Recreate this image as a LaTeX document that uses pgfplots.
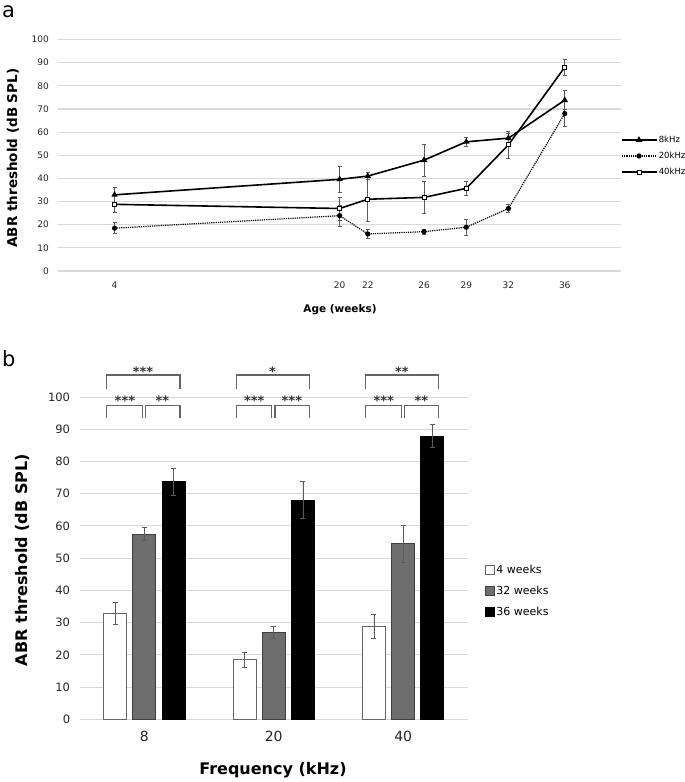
\documentclass[border=0pt]{standalone}
\usepackage{fontspec}
\setmainfont{DejaVu Sans}
\usepackage{pgfplots}
\pgfplotsset{compat=1.18}
\definecolor{gridc}{RGB}{217,217,217}
\definecolor{errc}{RGB}{90,90,90}
\definecolor{barg}{RGB}{110,110,110}
\definecolor{edgec}{RGB}{64,64,64}
\definecolor{brkc}{RGB}{100,100,100}
\tikzset{brk/.style={draw=brkc,line width=1.2pt},
  star/.style={font=\bfseries\fontsize{13}{14}\selectfont,text=black!80,inner sep=0pt}}

\begin{document}
\begin{tikzpicture}
\path[use as bounding box] (0pt,0pt) rectangle (685pt,-782pt);
\node[anchor=base west,inner sep=0pt,font=\fontsize{21}{22}\selectfont] at (2pt,-17pt) {a};
\node[anchor=base west,inner sep=0pt,font=\fontsize{21}{22}\selectfont] at (2pt,-366pt) {b};

% panel a: threshold vs age
\begin{axis}[at={(58.3pt,-271pt)}, anchor=south west,
  scale only axis, width=562.7pt, height=231.5pt,
  xmin=0, xmax=40, ymin=0, ymax=100,
  xtick={4,20,22,26,29,32,36}, ytick={0,10,...,100},
  axis line style={draw=none}, major tick length=0pt,
  ymajorgrids, grid style={gridc,line width=1.2pt},
  /pgf/number format/assume math mode=true,
  ticklabel style={font=\fontsize{9}{10}\selectfont,text=black!85},
  xticklabel style={yshift=-7pt}, yticklabel style={xshift=-6pt},
  xlabel={Age (weeks)}, ylabel={ABR threshold (dB SPL)},
  xlabel style={at={(axis description cs:0.5006,-0.168)},anchor=center,font=\bfseries\fontsize{10.5}{12}\selectfont},
  ylabel style={at={(axis description cs:-0.0805,0.488)},anchor=center,font=\bfseries\fontsize{13.5}{15}\selectfont},
  error bars/y dir=both, error bars/y explicit,
  error bars/error bar style={errc,line width=0.8pt,solid},
  error bars/error mark options={rotate=90,mark size=2pt,line width=0.8pt,errc,solid},
  legend style={at={(1,0.497)},anchor=west,draw=none,fill=none,inner sep=0pt,row sep=6pt,
    font=\fontsize{8.5}{9}\selectfont,nodes={inner sep=1pt}},
  legend cell align=left,
  legend image code/.code={\draw[mark repeat=2,mark phase=2,#1] plot coordinates {(0pt,0pt) (17pt,0pt) (35pt,0pt)};},
]
\addplot[black,line width=1.6pt,mark=triangle*,mark size=2.2pt,mark options={solid}] coordinates {
  (4,32.9) +- (0,3.4) (20,39.6) +- (0,5.7) (22,41) +- (0,1.5) (26,47.9) +- (0,7)
  (29,55.8) +- (0,1.9) (32,57.4) +- (0,2) (36,73.8) +- (0,4.2)};
\addplot[black,line width=1.2pt,densely dotted,mark=*,mark size=2pt,mark options={solid}] coordinates {
  (4,18.5) +- (0,2.3) (20,23.9) +- (0,4.5) (22,16) +- (0,2) (26,17) +- (0,1)
  (29,18.9) +- (0,3.5) (32,27) +- (0,1.9) (36,68) +- (0,5.7)};
\addplot[black,line width=1.6pt,mark=square*,mark size=2pt,mark options={solid,fill=white,line width=0.8pt}] coordinates {
  (4,28.8) +- (0,3.7) (20,27) +- (0,5) (22,31) +- (0,9.5) (26,31.8) +- (0,7)
  (29,35.7) +- (0,3.2) (32,54.5) +- (0,5.7) (36,88) +- (0,3.6)};
\legend{8kHz,20kHz,40kHz}
\end{axis}

% panel b: threshold by frequency
\begin{axis}[at={(79.6pt,-719.3pt)}, anchor=south west,
  scale only axis, width=388.3pt, height=322.3pt,
  xmin=-0.5, xmax=2.5, ymin=0, ymax=100, clip=false,
  xtick={0,1,2}, xticklabels={8,20,40}, ytick={0,10,...,100},
  ybar=6.2pt, bar width=23pt,
  axis line style={draw=none}, major tick length=0pt,
  ymajorgrids, grid style={gridc,line width=1pt},
  /pgf/number format/assume math mode=true,
  yticklabel style={font=\fontsize{11.5}{12}\selectfont,text=black!85,xshift=-6pt},
  xticklabel style={font=\fontsize{14}{15}\selectfont,text=black!85,yshift=-8pt},
  xlabel={Frequency (kHz)}, ylabel={ABR threshold (dB SPL)},
  xlabel style={at={(axis description cs:0.498,-0.157)},anchor=center,font=\bfseries\fontsize{16}{18}\selectfont},
  ylabel style={at={(axis description cs:-0.146,0.494)},anchor=center,font=\bfseries\fontsize{16}{18}\selectfont},
  error bars/y dir=both, error bars/y explicit,
  error bars/error bar style={errc,line width=0.8pt},
  error bars/error mark options={rotate=90,mark size=2.5pt,line width=0.8pt,errc},
  legend style={at={(1.044,0.398)},anchor=west,draw=none,fill=none,inner sep=0pt,row sep=8pt,
    font=\fontsize{11}{12}\selectfont,nodes={inner sep=1.5pt}},
  legend cell align=left,
  legend image code/.code={\draw[#1] (0pt,-4.5pt) rectangle (9pt,4.5pt);},
]
\addplot[fill=white,draw=gray!80!black,line width=0.8pt] coordinates {
  (0,32.9) +- (0,3.4) (1,18.5) +- (0,2.3) (2,28.8) +- (0,3.8)};
\addplot[fill=barg,draw=edgec,line width=0.8pt] coordinates {
  (0,57.4) +- (0,2) (1,27) +- (0,1.9) (2,54.5) +- (0,5.7)};
\addplot[fill=black,draw=black,line width=0.8pt] coordinates {
  (0,73.8) +- (0,4.2) (1,68) +- (0,5.7) (2,87.9) +- (0,3.6)};
\legend{4 weeks,32 weeks,36 weeks}
% significance brackets
\draw[brk] (axis cs:-0.29,102.5) -- (axis cs:-0.29,106.8) -- (axis cs:0.275,106.8) -- (axis cs:0.275,102.5);
\draw[brk] (axis cs:-0.29,93.4) -- (axis cs:-0.29,97.4) -- (axis cs:-0.015,97.4) -- (axis cs:-0.015,93.4);
\draw[brk] (axis cs:0.01,93.4) -- (axis cs:0.01,97.4) -- (axis cs:0.275,97.4) -- (axis cs:0.275,93.4);
\draw[brk] (axis cs:0.71,102.5) -- (axis cs:0.71,106.8) -- (axis cs:1.275,106.8) -- (axis cs:1.275,102.5);
\draw[brk] (axis cs:0.71,93.4) -- (axis cs:0.71,97.4) -- (axis cs:0.985,97.4) -- (axis cs:0.985,93.4);
\draw[brk] (axis cs:1.01,93.4) -- (axis cs:1.01,97.4) -- (axis cs:1.275,97.4) -- (axis cs:1.275,93.4);
\draw[brk] (axis cs:1.71,102.5) -- (axis cs:1.71,106.8) -- (axis cs:2.275,106.8) -- (axis cs:2.275,102.5);
\draw[brk] (axis cs:1.71,93.4) -- (axis cs:1.71,97.4) -- (axis cs:1.985,97.4) -- (axis cs:1.985,93.4);
\draw[brk] (axis cs:2.01,93.4) -- (axis cs:2.01,97.4) -- (axis cs:2.275,97.4) -- (axis cs:2.275,93.4);
\node[star] at (axis cs:-0.01,108.0) {***};
\node[star] at (axis cs:-0.15,99.0) {***};
\node[star] at (axis cs:0.14,99.0) {**};
\node[star] at (axis cs:0.99,108.0) {*};
\node[star] at (axis cs:0.85,99.0) {***};
\node[star] at (axis cs:1.14,99.0) {***};
\node[star] at (axis cs:1.99,108.0) {**};
\node[star] at (axis cs:1.85,99.0) {***};
\node[star] at (axis cs:2.14,99.0) {**};
\end{axis}
\end{tikzpicture}
\end{document}
